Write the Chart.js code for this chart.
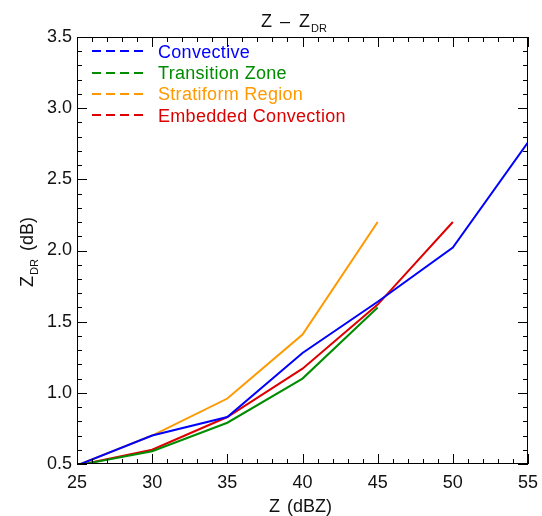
<!DOCTYPE html>
<html><head><meta charset="utf-8">
<script src="https://cdn.jsdelivr.net/npm/chart.js@4/dist/chart.umd.min.js"></script>
<style>html,body{margin:0;padding:0;background:#fff}#wrap{width:542px;height:516px}</style>
</head><body><div id="wrap"><canvas id="c" width="542" height="516"></canvas></div>
<script>
// ---- data ----
const zValues = [25, 30, 35, 40, 45, 50, 55];
const convective = [0.49, 0.70, 0.83, 1.28, 1.64, 2.02, 2.76];
const transitionZone = [0.49, 0.59, 0.79, 1.10, 1.60];
const stratiform = [0.49, 0.70, 0.96, 1.41, 2.20];
const embedded = [0.49, 0.60, 0.83, 1.17, 1.62, 2.20];
const seriesNames = ['Convective', 'Transition Zone', 'Stratiform Region', 'Embedded Convection'];
const seriesColors = ['#0000ff', '#008c00', '#ff9900', '#dd0000'];
const xTickValues = [25, 30, 35, 40, 45, 50, 55];
const yTickValues = [0.5, 1.0, 1.5, 2.0, 2.5, 3.0, 3.5];

const allSeries = [convective, transitionZone, stratiform, embedded];
const datasets = allSeries.map((s, i) => ({
  label: seriesNames[i],
  data: s.map((v, j) => ({x: zValues[j], y: v})),
  borderColor: seriesColors[i],
  backgroundColor: seriesColors[i],
  borderWidth: 2,
  pointRadius: 0,
  tension: 0,
  fill: false
}));

const FONT = '"Liberation Sans", Arial, sans-serif';
const TXT = '#111';

const decor = {
  id: 'decor',
  afterDraw(chart) {
    const ctx = chart.ctx;
    const a = chart.chartArea;
    const xs = chart.scales.x, ys = chart.scales.y;
    ctx.save();
    // box
    ctx.strokeStyle = '#000';
    ctx.lineWidth = 1;
    ctx.strokeRect(a.left + 0.5, a.top + 0.5, a.right - a.left - 1, a.bottom - a.top - 1);
    // ticks (inside, all four sides)
    ctx.beginPath();
    for (let v = 25; v <= 55; v += 1) {
      const px = Math.round(xs.getPixelForValue(v)) + 0.5;
      const len = (v % 5 === 0) ? 10 : 5;
      ctx.moveTo(px, a.bottom); ctx.lineTo(px, a.bottom - len);
      ctx.moveTo(px, a.top); ctx.lineTo(px, a.top + len);
    }
    for (let k = 5; k <= 35; k += 1) {
      const py = Math.round(ys.getPixelForValue(k / 10)) + 0.5;
      const len = (k % 5 === 0) ? 10 : 5;
      ctx.moveTo(a.left, py); ctx.lineTo(a.left + len, py);
      ctx.moveTo(a.right, py); ctx.lineTo(a.right - len, py);
    }
    ctx.stroke();

    ctx.fillStyle = TXT;
    ctx.textBaseline = 'alphabetic';
    ctx.textAlign = 'left';
    // title  "Z – Z" + subscript DR
    ctx.font = '18px ' + FONT;
    ctx.fillText('Z', 261, 27);
    ctx.fillText('\u2013', 280, 27);
    ctx.fillText('Z', 299, 27);
    ctx.font = '11px ' + FONT;
    ctx.fillText('DR', 311, 32);

    // x axis title
    ctx.font = '18px ' + FONT;
    ctx.fillText('Z', 269, 512);
    ctx.fillText('(dBZ)', 287, 512);

    // y axis title (rotated)
    ctx.save();
    ctx.translate(33, 252);
    ctx.rotate(-Math.PI / 2);
    ctx.font = '18px ' + FONT;
    const wa = ctx.measureText('Z').width, wc = ctx.measureText('(dB)').width;
    ctx.font = '11px ' + FONT;
    const wb = ctx.measureText('DR').width;
    const gap = 8;
    let sx = -(wa + wb + gap + wc + 1) / 2;
    ctx.font = '18px ' + FONT;
    ctx.fillText('Z', sx, 0);
    ctx.font = '11px ' + FONT;
    ctx.fillText('DR', sx + wa + 1, 5);
    ctx.font = '18px ' + FONT;
    ctx.fillText('(dB)', sx + wa + wb + 1 + gap, 0);
    ctx.restore();

    // legend
    ctx.font = '18px ' + FONT;
    if ('letterSpacing' in ctx) ctx.letterSpacing = '0.3px';
    chart.data.datasets.forEach((ds, i) => {
      const ym = 51.3 + i * 21.3;
      ctx.strokeStyle = ds.borderColor;
      ctx.lineWidth = 2;
      ctx.setLineDash([9, 5]);
      ctx.beginPath();
      ctx.moveTo(92, Math.round(ym));
      ctx.lineTo(143, Math.round(ym));
      ctx.stroke();
      ctx.setLineDash([]);
      ctx.fillStyle = ds.borderColor;
      ctx.fillText(ds.label, 158, ym + 6.4);
    });
    ctx.restore();
  }
};

new Chart(document.getElementById('c'), {
  type: 'line',
  data: { datasets },
  options: {
    responsive: false,
    devicePixelRatio: 1,
    animation: false,
    layout: { padding: { left: 0, right: 14, top: 37, bottom: 0 } },
    plugins: { legend: { display: false }, title: { display: false }, tooltip: { enabled: false } },
    scales: {
      x: {
        type: 'linear', min: 25, max: 55,
        afterBuildTicks: (s) => { s.ticks = xTickValues.map(v => ({value: v})); },
        afterFit: (s) => { s.height = 52; s.paddingLeft = 0; s.paddingRight = 0; },
        grid: { display: false, drawTicks: false },
        border: { display: false },
        ticks: { padding: 8, color: TXT, font: { family: FONT, size: 18 }, maxRotation: 0, autoSkip: false,
                 callback: (v) => String(v) }
      },
      y: {
        type: 'linear', min: 0.5, max: 3.5,
        afterBuildTicks: (s) => { s.ticks = yTickValues.map(v => ({value: v})); },
        afterFit: (s) => { s.width = 77; s.paddingTop = 0; s.paddingBottom = 0; },
        grid: { display: false, drawTicks: false },
        border: { display: false },
        ticks: { padding: 5, color: TXT, font: { family: FONT, size: 18 }, autoSkip: false,
                 callback: (v) => Number(v).toFixed(1) }
      }
    }
  },
  plugins: [decor]
});
</script></body></html>
